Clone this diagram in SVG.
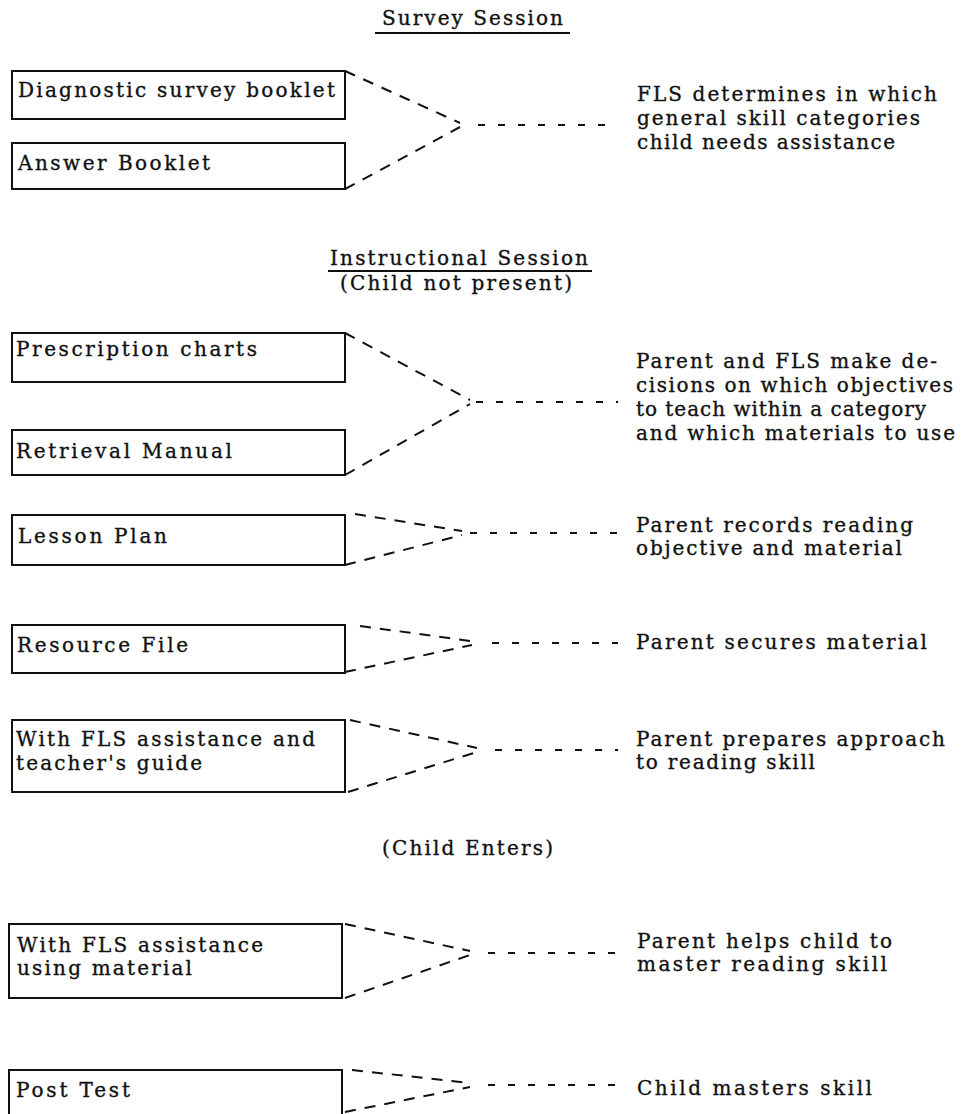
<svg xmlns="http://www.w3.org/2000/svg" width="975" height="1114" viewBox="0 0 975 1114">
<style>
text{font-family:"DejaVu Serif","Liberation Serif",serif;font-size:20px;fill:#111;stroke:#111;stroke-width:0.35;}
.box{fill:#fff;stroke:#111;stroke-width:2;}
.diag{fill:none;stroke:#111;stroke-width:2;stroke-dasharray:11 9;}
.hz{fill:none;stroke:#111;stroke-width:2;stroke-dasharray:7 13;}
.ul{stroke:#111;stroke-width:2;}
</style>
<rect width="975" height="1114" fill="#fff"/>
<g id="headers">
<text x="382" y="25" textLength="181" lengthAdjust="spacing">Survey Session</text>
<line class="ul" x1="375" y1="33" x2="570" y2="33"/>
<text x="330" y="265" textLength="258" lengthAdjust="spacing">Instructional Session</text>
<line class="ul" x1="328" y1="271" x2="592" y2="271"/>
<text x="340" y="290" textLength="232" lengthAdjust="spacing">(Child not present)</text>
<text x="382" y="855" textLength="171" lengthAdjust="spacing">(Child Enters)</text>
</g>
<g id="connectors">
<path class="diag" d="M345 71 L460 123 M345 189 L460 127"/>
<path class="hz" d="M478 125 H618"/>
<path class="diag" d="M345 333 L470 400 M345 475 L470 404"/>
<path class="hz" d="M476 402 H618"/>
<path class="diag" d="M355 514 L462 531 M345 565 L462 535"/>
<path class="hz" d="M470 533 H618"/>
<path class="diag" d="M360 626 L478 642 M345 672 L472 645"/>
<path class="hz" d="M492 643 H618"/>
<path class="diag" d="M350 720 L477 748 M348 792 L477 752"/>
<path class="hz" d="M495 750 H618"/>
<path class="diag" d="M345 924 L470 951 M345 998 L470 955"/>
<path class="hz" d="M488 953 H618"/>
<path class="diag" d="M352 1070 L470 1083 M345 1112 L470 1087"/>
<path class="hz" d="M488 1085 H618"/>
</g>
<g id="n-diagnostic">
<rect class="box" x="12" y="71" width="333" height="48"/>
<text x="18" y="97" textLength="317" lengthAdjust="spacing">Diagnostic survey booklet</text>
</g>
<g id="n-answer">
<rect class="box" x="12" y="143" width="333" height="46"/>
<text x="18" y="170" textLength="192" lengthAdjust="spacing">Answer Booklet</text>
</g>
<g id="n-fls-determines">
<text x="637" y="101" textLength="300" lengthAdjust="spacing">FLS determines in which</text>
<text x="637" y="125" textLength="283" lengthAdjust="spacing">general skill categories</text>
<text x="637" y="149" textLength="258" lengthAdjust="spacing">child needs assistance</text>
</g>
<g id="n-prescription">
<rect class="box" x="12" y="333" width="333" height="49"/>
<text x="16" y="356" textLength="241" lengthAdjust="spacing">Prescription charts</text>
</g>
<g id="n-retrieval">
<rect class="box" x="12" y="430" width="333" height="45"/>
<text x="16" y="458" textLength="216" lengthAdjust="spacing">Retrieval Manual</text>
</g>
<g id="n-decisions">
<text x="636" y="368" textLength="301" lengthAdjust="spacing">Parent and FLS make de-</text>
<text x="636" y="392" textLength="317" lengthAdjust="spacing">cisions on which objectives</text>
<text x="636" y="416" textLength="290" lengthAdjust="spacing">to teach within a category</text>
<text x="636" y="440" textLength="319" lengthAdjust="spacing">and which materials to use</text>
</g>
<g id="n-lesson">
<rect class="box" x="12" y="515" width="333" height="50"/>
<text x="18" y="543" textLength="149" lengthAdjust="spacing">Lesson Plan</text>
</g>
<g id="n-records">
<text x="636" y="532" textLength="277" lengthAdjust="spacing">Parent records reading</text>
<text x="636" y="555" textLength="266" lengthAdjust="spacing">objective and material</text>
</g>
<g id="n-resource">
<rect class="box" x="12" y="625" width="333" height="48"/>
<text x="17" y="652" textLength="171" lengthAdjust="spacing">Resource File</text>
</g>
<g id="n-secures">
<text x="636" y="649" textLength="291" lengthAdjust="spacing">Parent secures material</text>
</g>
<g id="n-with-fls-guide">
<rect class="box" x="12" y="720" width="333" height="72"/>
<text x="16" y="746" textLength="299" lengthAdjust="spacing">With FLS assistance and</text>
<text x="16" y="770" textLength="186" lengthAdjust="spacing">teacher's guide</text>
</g>
<g id="n-prepares">
<text x="636" y="746" textLength="309" lengthAdjust="spacing">Parent prepares approach</text>
<text x="636" y="769" textLength="179" lengthAdjust="spacing">to reading skill</text>
</g>
<g id="n-with-fls-material">
<rect class="box" x="9" y="924" width="333" height="74"/>
<text x="17" y="952" textLength="246" lengthAdjust="spacing">With FLS assistance</text>
<text x="17" y="975" textLength="175" lengthAdjust="spacing">using material</text>
</g>
<g id="n-helps">
<text x="637" y="948" textLength="255" lengthAdjust="spacing">Parent helps child to</text>
<text x="637" y="971" textLength="250" lengthAdjust="spacing">master reading skill</text>
</g>
<g id="n-posttest">
<rect class="box" x="9" y="1070" width="333" height="60"/>
<text x="16" y="1097" textLength="114" lengthAdjust="spacing">Post Test</text>
</g>
<g id="n-masters">
<text x="637" y="1095" textLength="235" lengthAdjust="spacing">Child masters skill</text>
</g>
</svg>
